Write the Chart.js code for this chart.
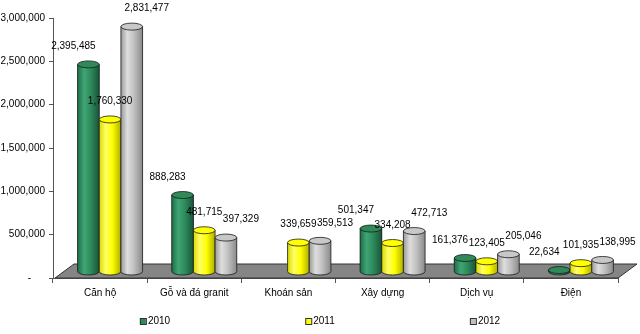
<!DOCTYPE html>
<html>
<head>
<meta charset="utf-8">
<script src="https://cdn.jsdelivr.net/npm/chart.js@4/dist/chart.umd.min.js"></script>
<style>
  body { margin: 0; background: #fff; }
  #wrap { width: 640px; height: 334px; position: relative; }
</style>
</head>
<body>
<div id="wrap"><canvas id="chart"></canvas></div>
<script>
// 데이터
const categories = ['Căn hộ', 'Gỗ và đá granit', 'Khoán sản', 'Xây dựng', 'Dịch vụ', 'Điện'];
const seriesNames = ['2010', '2011', '2012'];
const values2010 = [2395485, 888283, null, 501347, 161376, 22634];
const values2011 = [1760330, 481715, 339659, 334208, 123405, 101935];
const values2012 = [2831477, 397329, 359513, 472713, 205046, 138995];
const yMax = 3000000;
const yStep = 500000;

// 스타일
const baseColors = ['#2e8b57', '#ffff00', '#c0c0c0'];
const topColors = ['#2e8b57', '#ffff00', '#c8c8c8'];
const shades = [
  ['#1f6e47', '#3fa575', '#2e8b5c', '#17553a'],
  ['#d9d900', '#ffff66', '#ffff00', '#b0b000'],
  ['#9a9a9a', '#dedede', '#c0c0c0', '#8a8a8a']
];
const BAR_DX = 10, BAR_DY = -6;      // 3D 깊이 절반
const FLOOR_DX = 19, FLOOR_DY = 14;  // 바닥 깊이
const LABEL_SPREAD = 15;             // 라벨 간격 보정
const FAMILY = '"Liberation Sans", Arial, sans-serif';
const FONT = '10px ' + FAMILY;

// 3D 바닥 + 원기둥
const cylinderPlugin = {
  id: 'cylinder',
  beforeDatasetsDraw(chart) {
    const { ctx, chartArea: a } = chart;
    ctx.save();
    ctx.beginPath();
    ctx.moveTo(a.left + 2, a.bottom);
    ctx.lineTo(a.right, a.bottom);
    ctx.lineTo(a.right + FLOOR_DX, a.bottom - FLOOR_DY);
    ctx.lineTo(a.left + 2 + FLOOR_DX, a.bottom - FLOOR_DY);
    ctx.closePath();
    ctx.fillStyle = '#858585';
    ctx.fill();
    ctx.strokeStyle = '#333';
    ctx.lineWidth = 1;
    ctx.stroke();
    ctx.restore();

    ctx.save();
    ctx.translate(BAR_DX, BAR_DY);
  },
  afterDatasetsDraw(chart) {
    const ctx = chart.ctx;
    chart.data.datasets.forEach((ds, i) => {
      const meta = chart.getDatasetMeta(i);
      meta.data.forEach((el, j) => {
        if (ds.data[j] == null) return;
        const rx = el.width / 2, ry = 3.5;
        const x0 = el.x - rx, x1 = el.x + rx;
        const grad = ctx.createLinearGradient(x0, 0, x1, 0);
        [0, 0.3, 0.6, 1].forEach((s, k) => grad.addColorStop(s, shades[i][k]));

        ctx.beginPath();
        ctx.moveTo(x0, el.y);
        ctx.lineTo(x0, el.base);
        ctx.ellipse(el.x, el.base, rx, ry, 0, Math.PI, 0, true);
        ctx.lineTo(x1, el.y);
        ctx.closePath();
        ctx.fillStyle = grad;
        ctx.fill();
        ctx.strokeStyle = '#1a1a1a';
        ctx.lineWidth = 0.8;
        ctx.stroke();

        ctx.beginPath();
        ctx.ellipse(el.x, el.y, rx, ry, 0, 0, Math.PI * 2);
        ctx.fillStyle = topColors[i];
        ctx.fill();
        ctx.stroke();
      });
    });
    ctx.restore();
  },
  afterDraw(chart) {
    const ctx = chart.ctx;
    ctx.save();
    ctx.font = FONT;
    ctx.fillStyle = '#000';
    ctx.textAlign = 'center';
    ctx.textBaseline = 'middle';
    // 값 라벨
    chart.data.datasets.forEach((ds, i) => {
      chart.getDatasetMeta(i).data.forEach((el, j) => {
        if (ds.data[j] == null) return;
        const lx = el.x + BAR_DX + (i - 1) * LABEL_SPREAD;
        ctx.fillText(ds.data[j].toLocaleString('en-US'), lx, el.y + BAR_DY - 18);
      });
    });
    // 범례
    const cx = chart.width / 2, gap = 165, ly = 321;
    ctx.textAlign = 'left';
    seriesNames.forEach((name, i) => {
      const tw = ctx.measureText(name).width;
      const start = cx + (i - 1) * gap - (8 + tw) / 2;
      ctx.fillStyle = baseColors[i];
      ctx.fillRect(start, ly - 3, 6, 6);
      ctx.strokeStyle = '#333';
      ctx.lineWidth = 1;
      ctx.strokeRect(start + 0.5, ly - 2.5, 6, 6);
      ctx.fillStyle = '#000';
      ctx.fillText(name, start + 8, ly);
    });
    ctx.restore();
  }
};

new Chart(document.getElementById('chart'), {
  type: 'bar',
  data: {
    labels: categories,
    datasets: [
      { label: seriesNames[0], data: values2010, backgroundColor: baseColors[0] },
      { label: seriesNames[1], data: values2011, backgroundColor: baseColors[1] },
      { label: seriesNames[2], data: values2012, backgroundColor: baseColors[2] }
    ]
  },
  options: {
    responsive: true,
    maintainAspectRatio: false,
    animation: false,
    datasets: { bar: { categoryPercentage: 0.69, barPercentage: 1.0, borderWidth: 0 } },
    layout: { padding: { top: 18, right: 22, left: 0, bottom: 0 } },
    plugins: { legend: { display: false }, tooltip: { enabled: false } },
    scales: {
      x: {
        afterFit: s => { s.height = 56; },
        grid: { drawOnChartArea: false, drawTicks: true, tickLength: 5, color: '#555' },
        border: { color: '#555' },
        ticks: { font: { family: FAMILY, size: 10 }, color: '#000', padding: 4, maxRotation: 0 }
      },
      y: {
        min: 0, max: yMax,
        afterFit: s => { s.width = 53; },
        grid: { drawOnChartArea: false, drawTicks: true, tickLength: 4, color: '#555' },
        border: { color: '#555' },
        ticks: {
          stepSize: yStep,
          padding: 4,
          font: { family: FAMILY, size: 10 },
          color: '#000',
          callback: v => v === 0 ? '-     ' : v.toLocaleString('en-US')
        }
      }
    }
  },
  plugins: [cylinderPlugin]
});
</script>
</body>
</html>
